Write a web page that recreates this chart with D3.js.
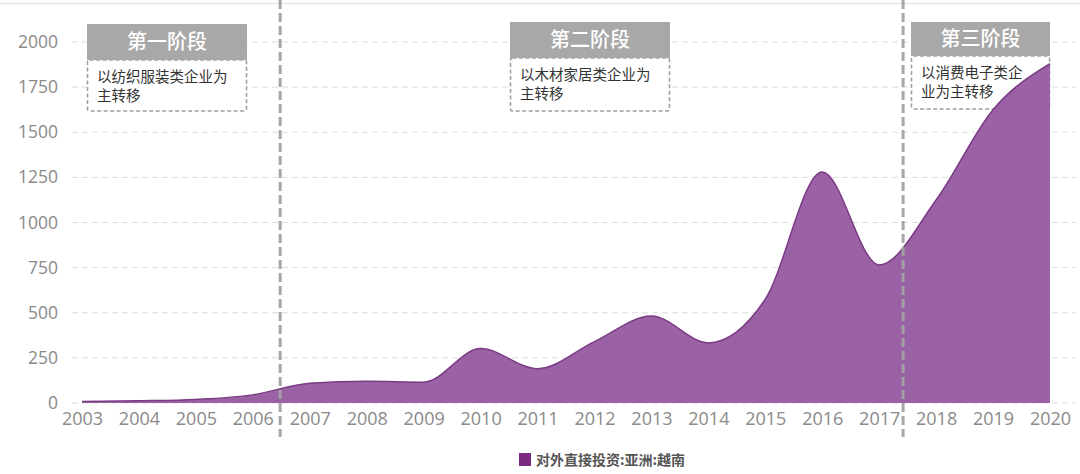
<!DOCTYPE html>
<html><head><meta charset="utf-8">
<script src="https://cdn.jsdelivr.net/npm/d3@7"></script>
<style>
html,body{margin:0;padding:0;background:#fff;}
svg{display:block;font-family:"Open Sans","Noto Sans CJK SC",sans-serif;}
</style></head>
<body><svg id="c" width="1080" height="474"></svg>
<script>
const years = [2003,2004,2005,2006,2007,2008,2009,2010,2011,2012,2013,2014,2015,2016,2017,2018,2019,2020];
const values = [8,12,20,45,110,120,115,302,190,340,482,333,575,1280,765,1125,1625,1880];
const yTicks = [0,250,500,750,1000,1250,1500,1750,2000];
const seriesName = "对外直接投资:亚洲:越南";
const phaseBoundaries = [2006.48, 2017.42];
const phaseTitles = ["第一阶段","第二阶段","第三阶段"];
const phaseTexts = [["以纺织服装类企业为","主转移"],["以木材家居类企业为","主转移"],["以消费电子类企","业为主转移"]];

const svg = d3.select("#c");
const x = d3.scaleLinear().domain([2003,2020]).range([82,1050]);
const y = d3.scaleLinear().domain([0,2000]).range([403,42]);

// top border line
svg.append("line").attr("x1",0).attr("x2",1080).attr("y1",3.5).attr("y2",3.5)
  .attr("stroke","#e6e6e6").attr("stroke-width",1.5);

// gridlines
svg.append("g").selectAll("line").data(yTicks).join("line")
  .attr("x1",72).attr("x2",1076)
  .attr("y1",d=>y(d)).attr("y2",d=>y(d))
  .attr("stroke","#dcdcdc").attr("stroke-width",1).attr("stroke-dasharray","6,4");

// y axis labels
const yAxis = d3.axisLeft(y).tickValues(yTicks).tickFormat(d3.format("d")).tickSize(0).tickPadding(0);
const gy = svg.append("g").attr("transform","translate(58,0)").call(yAxis);
gy.select(".domain").remove();
gy.selectAll("text").attr("font-size",17.5).attr("fill","#8a8a8a")
  .attr("font-family","'Open Sans',sans-serif");

// x axis labels
const xAxis = d3.axisBottom(x).tickValues(years).tickFormat(d3.format("d")).tickSize(0).tickPadding(0);
const gx = svg.append("g").attr("transform","translate(0,412)").call(xAxis);
gx.select(".domain").remove();
gx.selectAll("text").attr("font-size",18).attr("fill","#8a8a8a")
  .attr("font-family","'Open Sans',sans-serif");

// phase boxes
const boxes = [
  {x0:87,x1:247,hy0:24,hy1:60,by1:111},
  {x0:510,x1:670,hy0:22,hy1:58,by1:111},
  {x0:911,x1:1050,hy0:22,hy1:56,by1:109}
];
boxes.forEach((b,i)=>{
  const g = svg.append("g");
  g.append("rect").attr("x",b.x0+0.5).attr("y",b.hy1).attr("width",b.x1-b.x0-1).attr("height",b.by1-b.hy1)
    .attr("fill","#fff").attr("stroke","#a0a0a0").attr("stroke-width",1.6).attr("stroke-dasharray","4,2.5").attr("rx",2);
  g.append("rect").attr("x",b.x0).attr("y",b.hy0).attr("width",b.x1-b.x0).attr("height",b.hy1-b.hy0)
    .attr("fill","#a8a8a8");
  g.append("text").attr("x",(b.x0+b.x1)/2).attr("y",(b.hy0+b.hy1)/2+7)
    .attr("text-anchor","middle").attr("fill","#fff").attr("font-size",20).attr("font-weight",500)
    .attr("font-family","'Noto Sans CJK SC',sans-serif").text(phaseTitles[i]);
  phaseTexts[i].forEach((t,j)=>{
    g.append("text").attr("x",b.x0+10).attr("y",b.hy1+22+j*19)
      .attr("fill","#333").attr("font-size",14.5)
      .attr("font-family","'Noto Sans CJK SC',sans-serif").text(t);
  });
});

// area
const data = years.map((yr,i)=>({yr, v:values[i]}));
const area = d3.area().x(d=>x(d.yr)).y0(y(0)).y1(d=>y(d.v)).curve(d3.curveMonotoneX);
const line = d3.line().x(d=>x(d.yr)).y(d=>y(d.v)).curve(d3.curveMonotoneX);
svg.append("path").datum(data).attr("d",area).attr("fill","#9a62a4");
svg.append("path").datum(data).attr("d",line).attr("fill","none").attr("stroke","#7a3a84").attr("stroke-width",1.5);

// phase boundaries
svg.append("g").selectAll("line").data(phaseBoundaries).join("line")
  .attr("x1",d=>x(d)).attr("x2",d=>x(d)).attr("y1",0).attr("y2",437)
  .attr("stroke","#a3a3a3").attr("stroke-width",3).attr("stroke-dasharray","9,4").attr("opacity",0.95);

// legend
const lg = svg.append("g").attr("transform","translate(519,453)");
lg.append("rect").attr("width",12).attr("height",13).attr("fill","#7b2b80");
lg.append("text").attr("x",17).attr("y",12).attr("font-size",14).attr("fill","#555").attr("font-weight",700)
  .attr("font-family","'Noto Sans CJK SC',sans-serif").text(seriesName);
</script></body></html>
